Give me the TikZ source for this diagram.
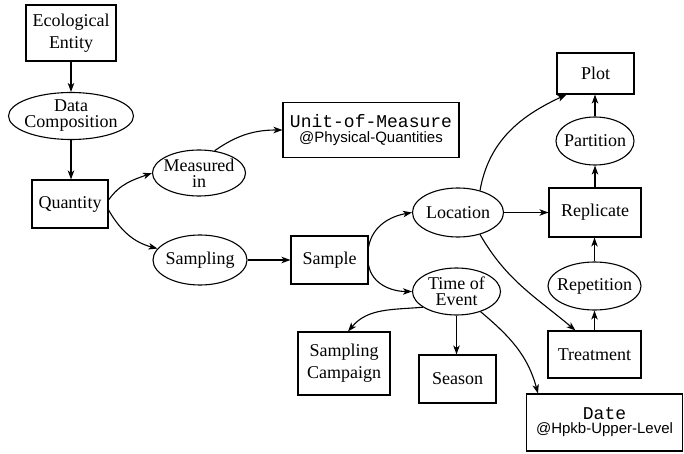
\documentclass[tikz,border=0pt]{standalone}
\usepackage{fontspec}
\setmainfont{Liberation Serif}
\newfontfamily\monofont{Liberation Mono}
\newfontfamily\helvfont{Liberation Sans}
\usetikzlibrary{shapes.geometric,arrows.meta}

\begin{document}
\begin{tikzpicture}[x=1pt,y=1pt,
  box/.style={draw, line width=1.1pt, rectangle, inner sep=0pt, align=center,
    font=\fontsize{18}{22}\selectfont},
  ell/.style={draw, line width=1.1pt, ellipse, inner sep=0pt, label={[lbl]center:#1}},
  lbl/.style={inner sep=0pt, align=center, font=\fontsize{18}{16}\selectfont},
  arr/.style={line width=1.1pt, -{Stealth[length=9pt,width=6.5pt,inset=2.5pt]}},
]
\useasboundingbox (0,0) rectangle (684,453);

% left column
\node[box, minimum width=90pt, minimum height=56pt] (ee) at (71,420) {Ecological\\Entity};
\node[ell={Data\\Composition}, minimum width=125pt, minimum height=47pt] (dc) at (71,337) {};
\node[box, minimum width=76pt, minimum height=48pt] (q) at (70,249) {Quantity};

% measurement branch
\node[ell={Measured\\in}, minimum width=93pt, minimum height=46pt] (mi) at (199,280) {};
\node[box, minimum width=176pt, minimum height=55pt, font=\fontsize{18}{15}\selectfont] (uom) at (371,323)
  {{\monofont Unit-of-Measure}\\{\helvfont\fontsize{15}{15}\selectfont @Physical-Quantities}};

% sampling branch
\node[ell={Sampling}, minimum width=94pt, minimum height=50pt] (smp) at (200,193) {};
\node[box, minimum width=77pt, minimum height=48pt] (sample) at (329.5,193) {Sample};
\node[ell={Location}, minimum width=91pt, minimum height=49pt] (loc) at (458,240.5) {};
\node[ell={Time of\\Event}, minimum width=88pt, minimum height=47pt] (toe) at (456.5,161.5) {};

% right column
\node[box, minimum width=77pt, minimum height=41pt] (plot) at (595.5,379.5) {Plot};
\node[ell={Partition}, minimum width=78pt, minimum height=48pt] (part) at (595,312) {};
\node[box, minimum width=92pt, minimum height=49pt] (repl) at (595,240.5) {Replicate};
\node[ell={Repetition}, minimum width=93pt, minimum height=48pt] (rep) at (594.5,167) {};
\node[box, minimum width=93pt, minimum height=47pt] (treat) at (594.5,98.5) {Treatment};

% time branch
\node[box, minimum width=92pt, minimum height=63pt] (sc) at (344,89.5) {Sampling\\Campaign};
\node[box, minimum width=77pt, minimum height=48pt] (season) at (457.5,74) {Season};
\node[box, minimum width=156pt, minimum height=57pt, font=\fontsize{18}{14}\selectfont] (date) at (604.5,30.5)
  {{\monofont Date}\\{\helvfont\fontsize{15}{15}\selectfont @Hpkb-Upper-Level}};

% connectors
\draw[arr] (ee.south) -- (dc.north);
\draw[arr] (dc.south) -- (dc.south |- q.north);
\draw[arr] ([yshift=4pt]q.east) to[out=55,in=200] (mi.west);
\draw[arr] ([yshift=-6pt]q.east) to[out=-60,in=165] (smp.165);
\draw[arr] (mi.55) to[out=35,in=180] (uom.west);
\draw[arr] (smp.east) -- (sample.west);
\draw[arr] ([yshift=13pt]sample.east) to[out=80,in=190] (loc.west);
\draw[arr] ([yshift=-5pt]sample.east) to[out=-80,in=180] (toe.west);
\draw[arr] (loc.45) to[out=80,in=205] ([xshift=10pt]plot.south west);
\draw[arr] (loc.east) -- (loc.east -| repl.west);
\draw[arr] (loc.-45) to[out=-60,in=140] ([xshift=28pt]treat.north west);
\draw[arr] (repl.north) -- (part.south);
\draw[arr] (part.north) -- (part.north |- plot.south);
\draw[arr] (treat.north) -- (rep.south);
\draw[arr] (rep.north) -- (rep.north |- repl.south);
\draw[arr] (toe.205) to[out=185,in=50] ([xshift=4pt]sc.north);
\draw[arr] (toe.south) -- (toe.south |- season.north);
\draw[arr] (toe.-40) to[out=-40,in=105] ([xshift=12pt]date.north west);
\end{tikzpicture}
\end{document}
